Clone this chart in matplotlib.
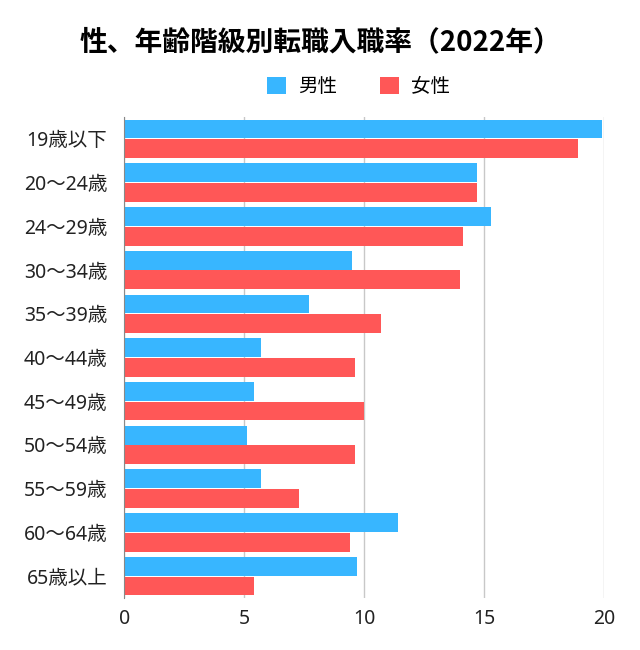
import numpy as np
import matplotlib.pyplot as plt

plt.rcParams['font.family'] = ['Noto Sans', 'Noto Sans CJK JP', 'DejaVu Sans']

categories = ['19歳以下', '20～24歳', '24～29歳', '30～34歳', '35～39歳', '40～44歳',
              '45～49歳', '50～54歳', '55～59歳', '60～64歳', '65歳以上']
male = [19.9, 14.7, 15.3, 9.5, 7.7, 5.7, 5.4, 5.1, 5.7, 11.4, 9.7]
female = [18.9, 14.7, 14.1, 14.0, 10.7, 9.6, 10.0, 9.6, 7.3, 9.4, 5.4]

blue = '#38B6FF'
red = '#FF5757'

fig = plt.figure(figsize=(6.4, 6.5), dpi=100)
ax = fig.add_axes([0.194, 0.08, 0.75, 0.74])

y = np.arange(len(categories))
h = 0.43
ax.barh(y - h / 2 - 0.01, male, height=h, color=blue, label='男性', zorder=3)
ax.barh(y + h / 2 + 0.01, female, height=h, color=red, label='女性', zorder=3)

ax.set_ylim(len(categories) - 0.5, -0.5)
ax.set_xlim(0, 20)
ax.set_xticks([0, 5, 10, 15, 20])
ax.set_yticks(y)
ax.set_yticklabels(categories)
ax.tick_params(axis='both', length=0, labelsize=14, colors='#222222')
ax.tick_params(axis='x', pad=8)
ax.tick_params(axis='y', pad=12)

ax.grid(axis='x', color='#c8c8c8', linewidth=1, zorder=0)
for s in ['top', 'right', 'bottom']:
    ax.spines[s].set_visible(False)
ax.spines['left'].set_color('#888888')
ax.spines['left'].set_zorder(4)

fig.text(0.5, 0.935, '性、年齢階級別転職入職率（2022年）', ha='center', va='center',
         fontsize=20, fontweight='bold', family=['Noto Sans CJK JP'])
fig.legend(loc='center', bbox_to_anchor=(0.56, 0.866), ncol=2, frameon=False,
           fontsize=14, handlelength=1.0, handleheight=1.0, columnspacing=2.2, handletextpad=0.6)

fig.savefig('out.png', dpi=100)
